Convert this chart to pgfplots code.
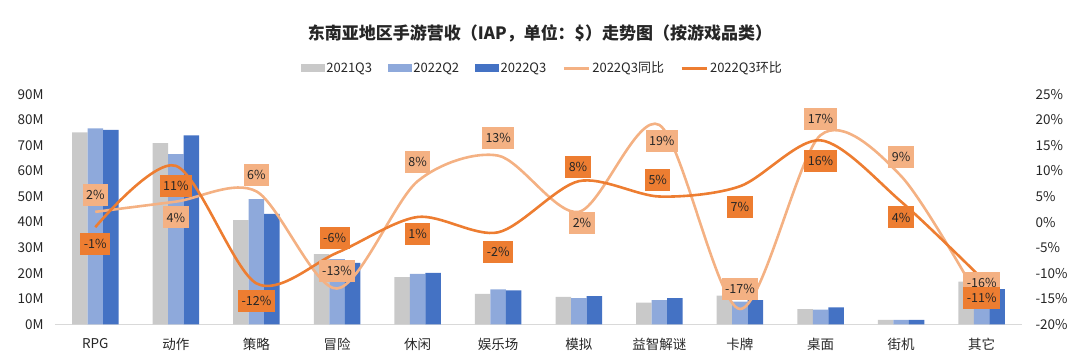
\documentclass[border=0pt]{standalone}
\usepackage{fontspec}
\setmainfont{Noto Sans CJK SC}
\usepackage{pgfplots}
\pgfplotsset{compat=1.18}
\definecolor{cgrey}{HTML}{C9C9C9}
\definecolor{clb}{HTML}{8EA9DB}
\definecolor{cdb}{HTML}{4472C4}
\definecolor{clo}{HTML}{F4B183}
\definecolor{cdo}{HTML}{ED7D31}
\definecolor{ctxt}{HTML}{262626}
\begin{document}
\begin{tikzpicture}[x=1pt,y=1pt,
  lbl/.style={font=\fontsize{12.5}{12.5}\selectfont, text=ctxt, inner xsep=3.5pt, inner ysep=0pt, minimum height=22pt}]
\useasboundingbox (0,0) rectangle (1080,360);
\node[font=\bfseries\fontsize{17}{17}\selectfont, text=ctxt] at (540,327) {东南亚地区手游营收（IAP，单位：\$）走势图（按游戏品类）};
\begin{axis}[at={(55pt,35.7pt)}, anchor=south west, scale only axis,
  width=967pt, height=230pt,
  xmin=-0.5, xmax=11.5, ymin=0, ymax=90,
  ybar=0pt, bar width=15.5pt,
  axis x line*=bottom, axis y line*=left,
  x axis line style={draw=black!15, line width=1pt, -},
  y axis line style={draw=none},
  tick style={draw=none},
  xtick={0,...,11},
  xticklabels={RPG,动作,策略,冒险,休闲,娱乐场,模拟,益智解谜,卡牌,桌面,街机,其它},
  ytick={0,10,...,90},
  yticklabels={0M,10M,20M,30M,40M,50M,60M,70M,80M,90M},
  ticklabel style={font=\fontsize{13.5}{13.5}\selectfont, text=ctxt},
  yticklabel style={xshift=-8pt},
  xticklabel style={yshift=-6pt},
]
\addplot[fill=cgrey, draw=none] coordinates {(0,75.1)(1,70.9)(2,40.8)(3,27.5)(4,18.5)(5,11.9)(6,10.7)(7,8.5)(8,11.2)(9,5.9)(10,1.7)(11,16.7)};
\addplot[fill=clb, draw=none] coordinates {(0,76.7)(1,66.6)(2,49.0)(3,25.5)(4,19.7)(5,13.7)(6,10.2)(7,9.5)(8,8.9)(9,5.7)(10,1.7)(11,15.5)};
\addplot[fill=cdb, draw=none] coordinates {(0,76.1)(1,73.9)(2,43.2)(3,24.0)(4,20.1)(5,13.3)(6,11.0)(7,10.2)(8,9.5)(9,6.6)(10,1.7)(11,13.8)};
\end{axis}
\begin{axis}[at={(55pt,35.7pt)}, anchor=south west, scale only axis,
  width=967pt, height=230pt,
  xmin=-0.5, xmax=11.5, ymin=-20, ymax=25,
  axis y line*=right, axis x line=none,
  y axis line style={draw=none},
  tick style={draw=none},
  xtick=\empty,
  ytick={-20,-15,...,25},
  yticklabels={-20\%,-15\%,-10\%,-5\%,0\%,5\%,10\%,15\%,20\%,25\%},
  ticklabel style={font=\fontsize{13.5}{13.5}\selectfont, text=ctxt},
  yticklabel style={anchor=west, xshift=10pt},
  clip=false,
  legend style={at={(0.504,1.114)}, anchor=center, draw=none, fill=none,
    font=\fontsize{13}{13}\selectfont, text=ctxt,
    /tikz/every even column/.append style={column sep=14pt}},
  legend columns=5,
]
\addlegendimage{legend image code/.code={\fill[cgrey] (0pt,-3.5pt) rectangle (23pt,3.5pt);}}
\addlegendentry{2021Q3}
\addlegendimage{legend image code/.code={\fill[clb] (0pt,-3.5pt) rectangle (23pt,3.5pt);}}
\addlegendentry{2022Q2}
\addlegendimage{legend image code/.code={\fill[cdb] (0pt,-3.5pt) rectangle (23pt,3.5pt);}}
\addlegendentry{2022Q3}
\addplot[smooth, tension=0.5, color=clo, line width=2.6pt, mark=none,
  legend image code/.code={\draw[clo, line width=3pt] (0pt,0pt) -- (25pt,0pt);}]
  coordinates {(0,2)(1,4)(2,6)(3,-13)(4,8)(5,13)(6,2)(7,19)(8,-17)(9,17)(10,9)(11,-16)};
\addlegendentry{2022Q3同比}
\addplot[smooth, tension=0.5, color=cdo, line width=2.6pt, mark=none,
  legend image code/.code={\draw[cdo, line width=3pt] (0pt,0pt) -- (25pt,0pt);}]
  coordinates {(0,-1)(1,11)(2,-12)(3,-6)(4,1)(5,-2)(6,8)(7,5)(8,7)(9,16)(10,4)(11,-11)};
\addlegendentry{2022Q3环比}
% YoY labels
\node[lbl, fill=clo] at (axis cs:0,5.3) {2\%};
\node[lbl, fill=clo] at (axis cs:1,0.9) {4\%};
\node[lbl, fill=clo] at (axis cs:2,9.2) {6\%};
\node[lbl, fill=clo] at (axis cs:3,-9.5) {-13\%};
\node[lbl, fill=clo] at (axis cs:4,11.7) {8\%};
\node[lbl, fill=clo] at (axis cs:5,16.4) {13\%};
\node[lbl, fill=clo] at (axis cs:6.04,-0.1) {2\%};
\node[lbl, fill=clo] at (axis cs:7.03,15.9) {19\%};
\node[lbl, fill=clo] at (axis cs:8,-13) {-17\%};
\node[lbl, fill=clo] at (axis cs:9,20.2) {17\%};
\node[lbl, fill=clo] at (axis cs:10,12.8) {9\%};
\node[lbl, fill=clo] at (axis cs:11,-12) {-16\%};
% QoQ labels
\node[lbl, fill=cdo] at (axis cs:0,-4.3) {-1\%};
\node[lbl, fill=cdo] at (axis cs:1,7.1) {11\%};
\node[lbl, fill=cdo] at (axis cs:2,-15.4) {-12\%};
\node[lbl, fill=cdo] at (axis cs:2.97,-3.1) {-6\%};
\node[lbl, fill=cdo] at (axis cs:4,-2.4) {1\%};
\node[lbl, fill=cdo] at (axis cs:5,-5.8) {-2\%};
\node[lbl, fill=cdo] at (axis cs:5.99,10.8) {8\%};
\node[lbl, fill=cdo] at (axis cs:6.98,8.2) {5\%};
\node[lbl, fill=cdo] at (axis cs:8,3.0) {7\%};
\node[lbl, fill=cdo] at (axis cs:9,12.0) {16\%};
\node[lbl, fill=cdo] at (axis cs:10,0.9) {4\%};
\node[lbl, fill=cdo] at (axis cs:11,-14.9) {-11\%};
\end{axis}
\end{tikzpicture}
\end{document}
